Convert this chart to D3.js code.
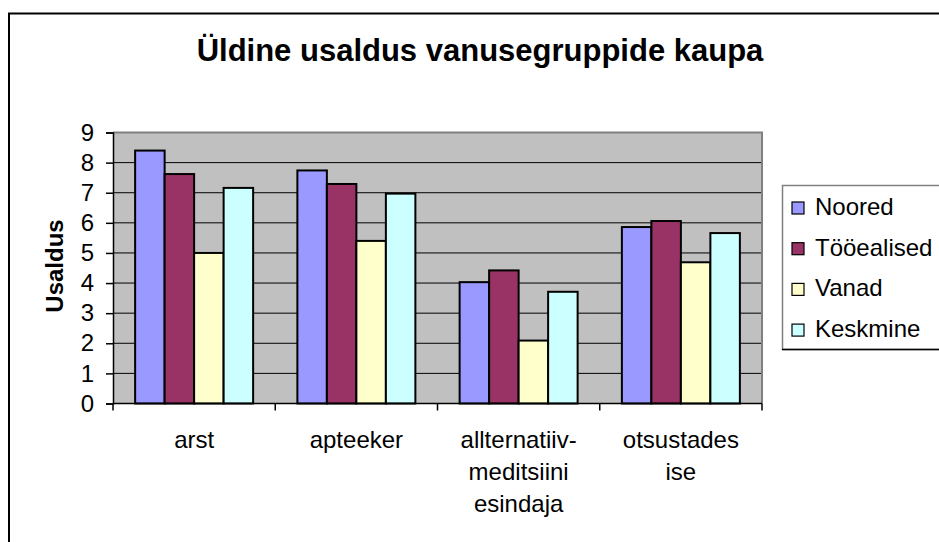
<!DOCTYPE html>
<html>
<head>
<meta charset="utf-8">
<style>
  body { margin: 0; background: #fff; }
  text { font-family: "Liberation Sans", Arial, sans-serif; fill: #000; }
</style>
</head>
<body>
<svg width="939" height="542"></svg>
<script src="https://cdn.jsdelivr.net/npm/d3@7"></script>
<script>
// data
var categories = [["arst"], ["apteeker"], ["allternatiiv-", "meditsiini", "esindaja"], ["otsustades", "ise"]];
var seriesNames = ["Noored", "Tööealised", "Vanad", "Keskmine"];
var noored     = [8.40, 7.74, 4.03, 5.86];
var tooealised = [7.62, 7.29, 4.42, 6.06];
var vanad      = [5.00, 5.40, 2.09, 4.69];
var keskmine   = [7.16, 6.97, 3.71, 5.66];
var yTicks = [0, 1, 2, 3, 4, 5, 6, 7, 8, 9];
var colors = ["#9999ff", "#993366", "#ffffcc", "#ccffff"];

var series = [noored, tooealised, vanad, keskmine];

var svg = d3.select("svg");

// outer chart frame (runs off the right and bottom edges)
svg.append("rect")
  .attr("x", 9).attr("y", 13.5)
  .attr("width", 960).attr("height", 560)
  .attr("fill", "#fff").attr("stroke", "#000").attr("stroke-width", 2);

var plot = {left: 113, right: 762, top: 132.5, bottom: 403.5};

var x = d3.scaleBand()
  .domain(d3.range(categories.length))
  .range([plot.left, plot.right])
  .paddingInner(0).paddingOuter(0);

var y = d3.scaleLinear()
  .domain([0, 9])
  .range([plot.bottom, plot.top]);

// plot background
svg.append("rect")
  .attr("x", plot.left).attr("y", plot.top)
  .attr("width", plot.right - plot.left).attr("height", plot.bottom - plot.top)
  .attr("fill", "#c0c0c0");

// gridlines
svg.append("g")
  .selectAll("line")
  .data(yTicks.slice(1))
  .enter().append("line")
    .attr("x1", plot.left).attr("x2", plot.right)
    .attr("y1", function(d) { return y(d); })
    .attr("y2", function(d) { return y(d); })
    .attr("stroke", "#000").attr("stroke-width", 1);

// plot border top/right in gray
svg.append("path")
  .attr("d", "M" + plot.left + "," + plot.top + "H" + plot.right + "V" + plot.bottom)
  .attr("fill", "none").attr("stroke", "#808080").attr("stroke-width", 2);

// bars, excel style gap width 150%
var barW = x.bandwidth() / 5.5;
var groups = svg.append("g")
  .selectAll("g")
  .data(series)
  .enter().append("g")
    .attr("fill", function(d, i) { return colors[i]; });

groups.selectAll("rect")
  .data(function(d, i) { return d.map(function(v, j) { return {v: v, s: i, c: j}; }); })
  .enter().append("rect")
    .attr("x", function(d) { return x(d.c) + barW * (0.75 + d.s); })
    .attr("y", function(d) { return y(d.v); })
    .attr("width", barW)
    .attr("height", function(d) { return y(0) - y(d.v); })
    .attr("stroke", "#000").attr("stroke-width", 2);

// y axis
var yAxis = d3.axisLeft(y).tickValues(yTicks).tickSize(7).tickPadding(12);
var ya = svg.append("g")
  .attr("transform", "translate(" + plot.left + ",0)")
  .call(yAxis);
ya.select(".domain").attr("stroke", "#000").attr("stroke-width", 1.5);
ya.selectAll(".tick line").attr("stroke", "#000").attr("stroke-width", 1.5);
ya.selectAll(".tick text")
  .style("font-family", "'Liberation Sans', Arial, sans-serif")
  .style("font-size", "24px").attr("fill", "#000");

// x axis with ticks between categories
var xa = svg.append("g");
xa.append("line")
  .attr("x1", plot.left).attr("x2", plot.right)
  .attr("y1", y(0)).attr("y2", y(0))
  .attr("stroke", "#000").attr("stroke-width", 1.5);
xa.selectAll(".sep")
  .data(d3.range(categories.length + 1))
  .enter().append("line")
    .attr("class", "sep")
    .attr("x1", function(d) { return d < categories.length ? x(d) : x(d - 1) + x.bandwidth(); })
    .attr("x2", function(d) { return d < categories.length ? x(d) : x(d - 1) + x.bandwidth(); })
    .attr("y1", y(0)).attr("y2", y(0) + 7)
    .attr("stroke", "#000").attr("stroke-width", 1.5);

xa.selectAll(".cat")
  .data(categories)
  .enter().append("text")
    .attr("class", "cat")
    .attr("text-anchor", "middle")
    .style("font-size", "24px")
    .attr("transform", function(d, i) { return "translate(" + (x(i) + x.bandwidth() / 2) + ",448)"; })
    .selectAll("tspan")
    .data(function(d) { return d; })
    .enter().append("tspan")
      .attr("x", 0)
      .attr("y", function(d, i) { return i * 32; })
      .text(function(d) { return d; });

// title
svg.append("text")
  .attr("x", 480).attr("y", 61)
  .attr("text-anchor", "middle")
  .style("font-size", "31px").style("font-weight", "bold")
  .text("Üldine usaldus vanusegruppide kaupa");

// y axis title
svg.append("text")
  .attr("transform", "translate(63,266) rotate(-90)")
  .attr("text-anchor", "middle")
  .style("font-size", "24px").style("font-weight", "bold")
  .text("Usaldus");

// legend
var leg = svg.append("g");
leg.append("rect")
  .attr("x", 782.5).attr("y", 185.5)
  .attr("width", 200).attr("height", 164)
  .attr("fill", "#fff").attr("stroke", "#808080").attr("stroke-width", 1.5);
leg.append("line")
  .attr("x1", 782).attr("x2", 939).attr("y1", 349.5).attr("y2", 349.5)
  .attr("stroke", "#000").attr("stroke-width", 1.5);

var items = leg.selectAll(".item")
  .data(seriesNames)
  .enter().append("g")
    .attr("class", "item")
    .attr("transform", function(d, i) { return "translate(0," + (215 + i * 40.7) + ")"; });
items.append("rect")
  .attr("x", 792).attr("y", -13)
  .attr("width", 12).attr("height", 12)
  .attr("fill", function(d, i) { return colors[i]; })
  .attr("stroke", "#000").attr("stroke-width", 1.2);
items.append("text")
  .attr("x", 815).attr("y", 0)
  .style("font-size", "24px")
  .text(function(d) { return d; });
</script>
</body>
</html>
